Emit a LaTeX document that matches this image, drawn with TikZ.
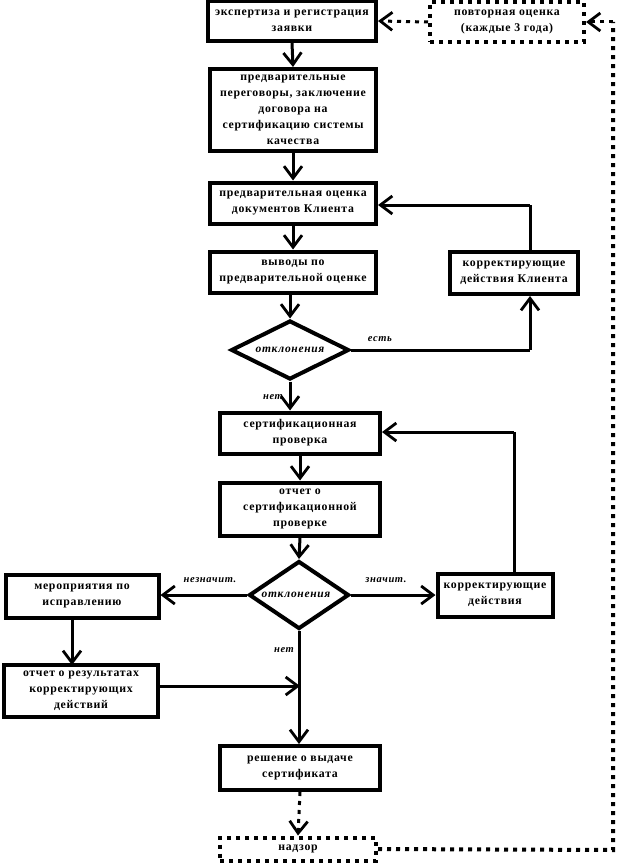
\documentclass[tikz,border=0pt]{standalone}
\usepackage{fontspec}
\setmainfont{Liberation Serif}[LetterSpace=6]
\usetikzlibrary{arrows.meta,shapes.geometric}
\begin{document}
\begin{tikzpicture}[x=1pt,y=-1pt,
  box/.style={draw,line width=4pt,rectangle,inner sep=0pt,align=center,
    font=\fontsize{11.8}{16}\selectfont\bfseries},
  dbox/.style={box,line width=4pt,dash pattern=on 4pt off 5pt},
  dia/.style={draw,line width=4pt,diamond,inner sep=0pt,
    font=\fontsize{11.5}{12}\selectfont\bfseries\itshape},
  lab/.style={font=\fontsize{10.5}{12}\selectfont\bfseries\itshape,inner sep=0pt},
  arr/.style={line width=3pt,-{Straight Barb[length=12pt,width=18pt,line width=2.8pt]}},
  darr/.style={arr,dash pattern=on 4pt off 5pt},
  dline/.style={line width=4pt,dash pattern=on 4pt off 5pt}]
\useasboundingbox (0,0) rectangle (618,864);
% nodes
\node[box,minimum width=168pt,minimum height=40pt] (b1) at (292,21) {экспертиза и регистрация\\заявки};
\node[dbox,minimum width=154pt,minimum height=40pt] (b2) at (507,22) {повторная оценка\\(каждые 3 года)};
\node[box,minimum width=166pt,minimum height=82pt] (b3) at (293,110) {предварительные\\переговоры, заключение\\договора на\\сертификацию системы\\качества};
\node[box,minimum width=166pt,minimum height=41pt] (b4) at (293,203) {предварительная оценка\\документов Клиента};
\node[box,minimum width=166pt,minimum height=41pt] (b5) at (293,272) {выводы по\\предварительной оценке};
\node[dia,aspect=2,minimum width=118pt,minimum height=59pt] (d1) at (290,350) {отклонения};
\node[box,minimum width=128pt,minimum height=42pt] (k1) at (514,273) {корректирующие\\действия Клиента};
\node[box,minimum width=160pt,minimum height=41pt] (b7) at (300,433) {сертификационная\\проверка};
\node[box,minimum width=160pt,minimum height=53pt] (b8) at (300,509) {отчет о\\сертификационной\\проверке};
\node[dia,aspect=1.47,minimum width=100pt,minimum height=68pt] (d2) at (299,595) {\hspace{-6pt}отклонения\hspace{-6pt}};
\node[box,minimum width=153pt,minimum height=43pt] (b9) at (82,596) {мероприятия по\\исправлению};
\node[box,minimum width=115pt,minimum height=43pt] (k2) at (495,595) {корректирующие\\действия};
\node[box,minimum width=154pt,minimum height=52pt] (b11) at (81,691) {отчет о результатах\\корректирующих\\действий};
\node[box,minimum width=160pt,minimum height=44pt] (b12) at (300,768) {решение о выдаче\\сертификата};
\node[dbox,minimum width=156pt,minimum height=23pt] (nz) at (298,849) {надзор};
% coordinates
\coordinate (c1) at (613,850);
\coordinate (c2) at (613,22);
\coordinate (c3) at (530,350);
\coordinate (c4) at (530,205);
\coordinate (c5) at (514,432);
\coordinate (c6) at (300,686);
% connectors
\draw[arr] (b1.south) -- (b3.north);
\draw[darr] (b2.west) -- (b1.east);
\draw[dline] (nz.east) -- (c1) -- (c2);
\draw[darr] (c2) -- (b2.east);
\draw[arr] (b3.south) -- (b4.north);
\draw[arr] (b4.south) -- (b5.south |- b5.north);
\draw[arr] (d1.north |- b5.south) -- (d1.north);
\draw[line width=3pt] (d1.east) -- (c3);
\draw[arr] (c3) -- (c3 |- k1.south);
\draw[line width=3pt] (c4 |- k1.north) -- (c4);
\draw[arr] (c4) -- (c4 -| b4.east);
\draw[arr] (d1.south) -- (d1.south |- b7.north);
\draw[arr] (b7.south) -- (b8.north);
\draw[arr] (b8.south) -- (d2.north);
\draw[arr] (d2.west) -- (b9.east |- d2.west);
\draw[arr] (d2.east) -- (k2.west |- d2.east);
\draw[line width=3pt] (c5 |- k2.north) -- (c5);
\draw[arr] (c5) -- (c5 -| b7.east);
\draw[arr] (72,617) -- (72,665);
\draw[arr] (b11.east |- c6) -- (c6);
\draw[arr] (d2.south) -- (d2.south |- b12.north);
\draw[darr] (b12.south) -- (nz.north);
% labels
\node[lab] (l1) at (380,339) {есть};
\node[lab] (l2) at (273,397) {нет};
\node[lab] (l3) at (210,580) {незначит.};
\node[lab] (l4) at (386,580) {значит.};
\node[lab] (l5) at (284,650) {нет};
\end{tikzpicture}
\end{document}
